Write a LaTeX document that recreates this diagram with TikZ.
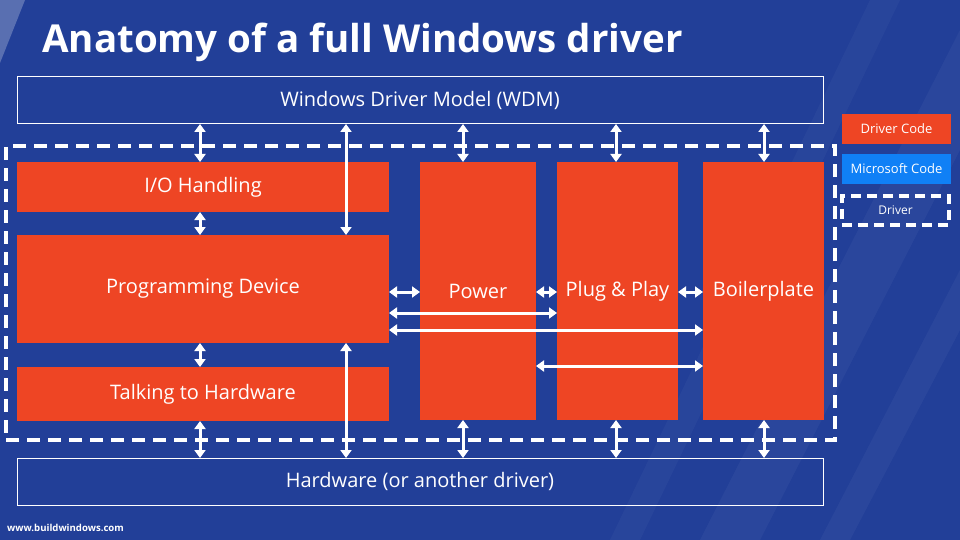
\documentclass[tikz,border=0pt]{standalone}
\usepackage{fontspec}
\setmainfont{Open Sans}
\usetikzlibrary{arrows.meta}
\definecolor{bgblue}{RGB}{34,63,152}
\definecolor{drvorange}{RGB}{238,69,36}
\definecolor{msblue}{RGB}{16,128,246}
\begin{document}
\begin{tikzpicture}[x=1pt,y=-1pt,
  basebox/.style={inner sep=0pt, outer sep=0pt, anchor=north west, text=white, font=\fontsize{20}{21}\selectfont},
  outline/.style={basebox, draw=white, line width=1pt},
  orangebox/.style={basebox, fill=drvorange},
  legendbox/.style={basebox, font=\fontsize{13}{14}\selectfont, minimum width=109pt, minimum height=30pt},
  biarrow/.style={draw=white, line width=3pt, {Triangle[length=8pt,width=11pt]}-{Triangle[length=8pt,width=11pt]}},
  bigdash/.style={draw=white, line width=4pt, dash pattern=on 13pt off 8pt},
  smalldash/.style={draw=white, line width=4pt, dash pattern=on 10pt off 6pt}
]
\useasboundingbox (0,0) rectangle (960,540);
\fill[bgblue] (0,0) rectangle (960,540);
% background decoration
\fill[white, opacity=0.25] (0,0) -- (25,0) -- (0,63) -- cycle;
\fill[white, opacity=0.04] (700,540) -- (760,540) -- (960,150) -- (960,30) -- cycle;
\fill[white, opacity=0.04] (820,540) -- (850,540) -- (960,330) -- (960,270) -- cycle;
\fill[white, opacity=0.03] (610,540) -- (640,540) -- (900,0) -- (870,0) -- cycle;

% title
\node[anchor=base west, text=white, inner sep=0pt, font=\fontsize{38.5}{40}\selectfont\bfseries] (title) at (42,53) {Anatomy of a full Windows driver};

% dashed container
\node[bigdash, anchor=north west, minimum width=829pt, minimum height=294pt, inner sep=0pt, outer sep=0pt] (container) at (6,146) {};

% boxes
\node[outline, minimum width=806pt, minimum height=47pt] (wdm) at (17,77) {Windows Driver Model (WDM)};
\node[orangebox, minimum width=372pt, minimum height=50pt] (io) at (17,162) {I/O Handling};
\node[orangebox, minimum width=372pt, minimum height=108pt] (prog) at (17,235) {Programming Device};
\node[orangebox, minimum width=372pt, minimum height=54pt] (talk) at (17,367) {Talking to Hardware};
\node[orangebox, minimum width=116pt, minimum height=258pt] (power) at (420,162) {Power};
\node[orangebox, minimum width=121pt, minimum height=258pt] (pnp) at (557,162) {Plug \& Play};
\node[orangebox, minimum width=121pt, minimum height=258pt] (boiler) at (703,162) {Boilerplate};
\node[outline, minimum width=806pt, minimum height=47pt] (hw) at (17,458) {Hardware (or another driver)};

% legend
\node[legendbox, fill=drvorange] (lcode) at (842,114) {Driver Code};
\node[legendbox, fill=msblue] (lms) at (842,154) {Microsoft Code};
\node[legendbox, smalldash, font=\fontsize{12}{13}\selectfont, minimum width=107pt, minimum height=29pt] (ldrv) at (842,196) {Driver};

% url
\node[anchor=base west, text=white, inner sep=0pt, font=\fontsize{9.6}{10}\selectfont\bfseries] (url) at (7,531) {www.buildwindows.com};

% helper coordinates
\coordinate (xa) at (200,0);
\coordinate (xb) at (346,0);
\coordinate (xc) at (463,0);
\coordinate (xd) at (616,0);
\coordinate (xe) at (764,0);
\coordinate (ya) at (0,292);
\coordinate (yb) at (0,313);
\coordinate (yc) at (0,330);
\coordinate (yd) at (0,366);

% vertical arrows top
\draw[biarrow] (wdm.south -| xa) -- (io.north -| xa);
\draw[biarrow] (wdm.south -| xb) -- (prog.north -| xb);
\draw[biarrow] (wdm.south -| xc) -- (power.north -| xc);
\draw[biarrow] (wdm.south -| xd) -- (pnp.north -| xd);
\draw[biarrow] (wdm.south -| xe) -- (boiler.north -| xe);
% inner vertical
\draw[biarrow] (io.south -| xa) -- (prog.north -| xa);
\draw[biarrow] (prog.south -| xa) -- (talk.north -| xa);
% vertical arrows bottom
\draw[biarrow] (talk.south -| xa) -- (hw.north -| xa);
\draw[biarrow] (prog.south -| xb) -- (hw.north -| xb);
\draw[biarrow] (power.south -| xc) -- (hw.north -| xc);
\draw[biarrow] (pnp.south -| xd) -- (hw.north -| xd);
\draw[biarrow] (boiler.south -| xe) -- (hw.north -| xe);
% horizontal arrows
\draw[biarrow] (prog.east |- ya) -- (power.west |- ya);
\draw[biarrow] (power.east |- ya) -- (pnp.west |- ya);
\draw[biarrow] (pnp.east |- ya) -- (boiler.west |- ya);
\draw[biarrow] (prog.east |- yb) -- (pnp.west |- yb);
\draw[biarrow] (prog.east |- yc) -- (boiler.west |- yc);
\draw[biarrow] (power.east |- yd) -- (boiler.west |- yd);
\end{tikzpicture}
\end{document}
